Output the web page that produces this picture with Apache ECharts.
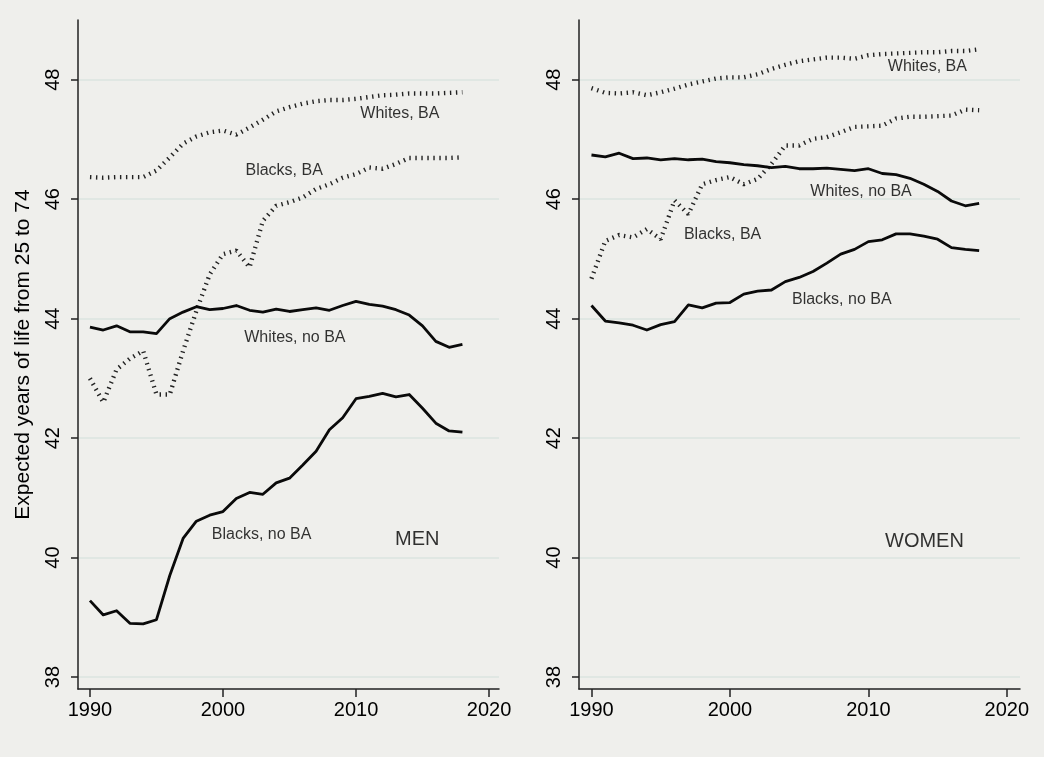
<!DOCTYPE html>
<html>
<head>
<meta charset="utf-8">
<script src="https://cdn.jsdelivr.net/npm/echarts@6/dist/echarts.min.js"></script>
<style>
html,body{margin:0;padding:0;background:#efefec;}
#c{width:1044px;height:757px;}
</style>
</head>
<body>
<div id="c"></div>
<script>
const years = [1990,1991,1992,1993,1994,1995,1996,1997,1998,1999,2000,2001,2002,2003,2004,2005,2006,2007,2008,2009,2010,2011,2012,2013,2014,2015,2016,2017,2018];

const menWhitesBA   = [46.37,46.36,46.37,46.37,46.37,46.48,46.70,46.93,47.05,47.12,47.15,47.08,47.20,47.33,47.47,47.54,47.60,47.64,47.66,47.66,47.68,47.71,47.74,47.75,47.77,47.77,47.77,47.78,47.79];
const menBlacksBA   = [43.00,42.60,43.15,43.33,43.46,42.73,42.73,43.46,44.13,44.74,45.08,45.14,44.86,45.64,45.89,45.95,46.03,46.17,46.25,46.36,46.42,46.53,46.51,46.59,46.69,46.69,46.69,46.69,46.70];
const menWhitesNoBA = [43.86,43.81,43.88,43.78,43.78,43.75,44.00,44.11,44.20,44.15,44.17,44.22,44.14,44.11,44.16,44.12,44.15,44.18,44.14,44.22,44.29,44.24,44.21,44.15,44.06,43.88,43.62,43.52,43.57];
const menBlacksNoBA = [39.28,39.04,39.11,38.90,38.89,38.96,39.70,40.32,40.61,40.71,40.77,40.99,41.09,41.06,41.25,41.33,41.55,41.78,42.14,42.34,42.66,42.70,42.75,42.69,42.73,42.50,42.25,42.12,42.10];

const womenWhitesBA   = [47.86,47.78,47.77,47.79,47.74,47.79,47.85,47.92,47.97,48.02,48.04,48.04,48.09,48.18,48.25,48.31,48.34,48.37,48.37,48.35,48.41,48.43,48.44,48.45,48.46,48.46,48.48,48.48,48.51];
const womenWhitesNoBA = [46.74,46.71,46.77,46.68,46.69,46.66,46.68,46.66,46.67,46.63,46.61,46.58,46.56,46.53,46.55,46.51,46.51,46.52,46.50,46.48,46.51,46.43,46.41,46.35,46.25,46.13,45.97,45.89,45.93];
const womenBlacksBA   = [44.67,45.30,45.40,45.36,45.50,45.33,45.98,45.75,46.25,46.32,46.37,46.25,46.34,46.59,46.90,46.90,47.01,47.04,47.12,47.21,47.22,47.23,47.35,47.38,47.38,47.39,47.40,47.50,47.49];
const womenBlacksNoBA = [44.22,43.96,43.93,43.89,43.81,43.90,43.95,44.23,44.18,44.26,44.27,44.41,44.46,44.48,44.62,44.69,44.79,44.93,45.08,45.16,45.29,45.32,45.42,45.42,45.38,45.33,45.19,45.16,45.14];

const xTicks = [1990, 2000, 2010, 2020];
const yTicks = [38, 40, 42, 44, 46, 48];
const yTitle = 'Expected years of life from 25 to 74';

const menLabels = [
  {name: 'Whites, BA', value: [2013.3, 47.43]},
  {name: 'Blacks, BA', value: [2004.6, 46.48]},
  {name: 'Whites, no BA', value: [2005.4, 43.69]},
  {name: 'Blacks, no BA', value: [2002.9, 40.39]}
];
const womenLabels = [
  {name: 'Whites, BA', value: [2014.26, 48.22]},
  {name: 'Whites, no BA', value: [2009.47, 46.12]},
  {name: 'Blacks, BA', value: [1999.47, 45.41]},
  {name: 'Blacks, no BA', value: [2008.08, 44.32]}
];
const panelTitles = [
  {name: 'MEN', value: [2014.6, 40.3]},
  {name: 'WOMEN', value: [2014.05, 40.27]}
];

const FONT = '"Liberation Sans", Arial, Helvetica, sans-serif';
const zip = (a) => years.map((y, i) => [y, a[i]]);

function xAxis(gi, min, max) {
  return {
    type: 'value', gridIndex: gi, min: min, max: max,
    axisLine: {show: true, lineStyle: {color: '#222', width: 1.5}},
    axisTick: {show: true, length: 8, lineStyle: {color: '#222', width: 1.5}, customValues: xTicks},
    axisLabel: {customValues: xTicks, color: '#000', fontSize: 20, fontFamily: FONT, margin: 11,
      formatter: (v) => String(Math.round(v))},
    splitLine: {show: false}
  };
}
function yAxis(gi, withName) {
  const ax = {
    type: 'value', gridIndex: gi, min: 37.8, max: 49,
    axisLine: {show: true, lineStyle: {color: '#222', width: 1.5}},
    axisTick: {show: true, length: 7, lineStyle: {color: '#222', width: 1.5}, customValues: yTicks},
    axisLabel: {customValues: yTicks, rotate: 90, color: '#000', fontSize: 20, fontFamily: FONT, margin: 15,
      formatter: (v) => String(Math.round(v))},
    splitLine: {show: true, lineStyle: {color: '#dbe4e0', width: 1.5}}
  };
  if (withName) {
    ax.name = yTitle;
    ax.nameLocation = 'middle';
    ax.nameGap = 44;
    ax.nameTextStyle = {fontSize: 21, color: '#000', fontFamily: FONT};
  }
  return ax;
}
function solid(name, gi, data) {
  return {name, type: 'line', xAxisIndex: gi, yAxisIndex: gi, data: zip(data), showSymbol: false, symbol: 'none',
    lineStyle: {color: '#0a0a0a', width: 2.8, join: 'round'}, silent: true, z: 3};
}
function dotted(name, gi, data) {
  return {name, type: 'line', xAxisIndex: gi, yAxisIndex: gi, data: zip(data), showSymbol: false, symbol: 'none',
    lineStyle: {color: '#222', width: 4.4, type: [1.4, 4.6], cap: 'butt'}, silent: true, z: 3};
}
function labels(gi, data, size) {
  return {type: 'scatter', xAxisIndex: gi, yAxisIndex: gi, data: data, symbolSize: 0, silent: true, z: 5,
    itemStyle: {color: '#000'},
    label: {show: true, position: 'inside', formatter: '{b}', color: '#000', fontSize: size, fontFamily: FONT,
      textBorderWidth: 0, textBorderColor: 'transparent', textShadowBlur: 0}};
}

const chart = echarts.init(document.getElementById('c'), null, {renderer: 'canvas'});
chart.setOption({
  backgroundColor: '#efefec',
  animation: false,
  grid: [
    {left: 78, top: 20, width: 421, bottom: 68},
    {left: 579, top: 20, width: 441, bottom: 68}
  ],
  xAxis: [xAxis(0, 1989.1, 2020.75), xAxis(1, 1989.1, 2020.95)],
  yAxis: [yAxis(0, true), yAxis(1, false)],
  series: [
    dotted('Whites, BA', 0, menWhitesBA),
    dotted('Blacks, BA', 0, menBlacksBA),
    solid('Whites, no BA', 0, menWhitesNoBA),
    solid('Blacks, no BA', 0, menBlacksNoBA),
    dotted('Whites, BA', 1, womenWhitesBA),
    dotted('Blacks, BA', 1, womenBlacksBA),
    solid('Whites, no BA', 1, womenWhitesNoBA),
    solid('Blacks, no BA', 1, womenBlacksNoBA),
    labels(0, menLabels, 16),
    labels(1, womenLabels, 16),
    labels(0, [panelTitles[0]], 20),
    labels(1, [panelTitles[1]], 20)
  ]
});
</script>
</body>
</html>
